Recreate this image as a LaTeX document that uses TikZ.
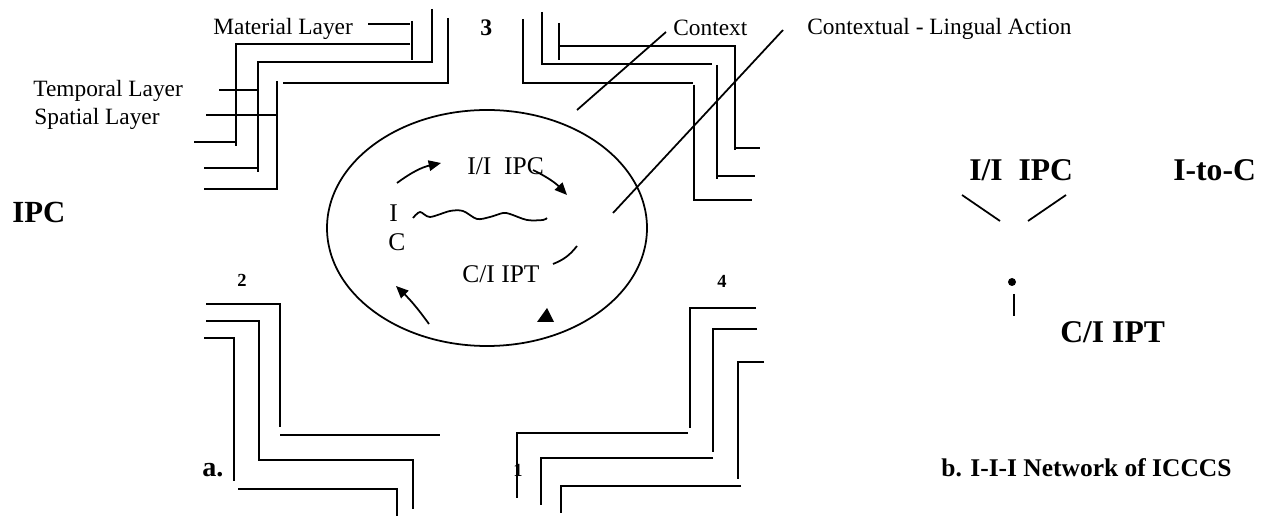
\documentclass[tikz,border=0pt]{standalone}
\usepackage{fontspec}
\setmainfont{Liberation Serif}
\usetikzlibrary{arrows.meta}
\tikzset{
  ln/.style={line width=1pt},
  arr/.style={line width=1pt,-{Triangle[length=7pt,width=6pt]}},
  lbl/.style={inner sep=0pt,anchor=base west,font=\fontsize{13.3}{15}\selectfont},
  ell/.style={inner sep=0pt,anchor=base west,font=\fontsize{14.5}{16}\selectfont},
  big/.style={inner sep=0pt,anchor=base west,font=\fontsize{18}{20}\selectfont\bfseries},
  num/.style={inner sep=0pt,anchor=base west,font=\fontsize{10.5}{12}\selectfont\bfseries},
}
\begin{document}
\begin{tikzpicture}[x=0.02cm,y=-0.02cm]
\useasboundingbox (0,0) rectangle (1271,516);
% ---------- labels ----------
\node[lbl] (mat) at (213,35) {Material Layer};
\node[lbl] (tmp) at (33,97) {Temporal Layer};
\node[lbl] (spa) at (34,125) {Spatial Layer};
\node[lbl] (ctx) at (673,36) {Context};
\node[lbl] (cla) at (807,35) {Contextual - Lingual Action};
\node[inner sep=0pt,anchor=base west,font=\fontsize{13.5}{15}\selectfont\bfseries] (n3) at (480,36) {3};
\node[num] (n2) at (237,287) {2};
\node[num] (n4) at (717,288) {4};
\node[num] (n1) at (513,477) {1};
\node[inner sep=0pt,anchor=base west,font=\fontsize{16}{18}\selectfont\bfseries] (la) at (202,477) {a.};
\node[inner sep=0pt,anchor=base west,font=\fontsize{17.5}{19}\selectfont\bfseries] (ipcl) at (12,223) {IPC};
% ---------- top-left corner ----------
\draw[ln] (368,24) -- (410,24);
\draw[ln] (412,21) -- (412,60);
\draw[ln] (410,44) -- (236,44) -- (236,146);
\draw[ln] (194,142) -- (236,142);
\draw[ln] (432,9) -- (432,62) -- (258,62) -- (258,172);
\draw[ln] (204,168) -- (258,168);
\draw[ln] (448,18) -- (448,83) -- (283,83);
\draw[ln] (277,81) -- (277,189) -- (204,189);
\draw[ln] (219,90) -- (258,90);
\draw[ln] (206,115) -- (277,115);
% ---------- top-right corner ----------
\draw[ln] (559,23) -- (559,60);
\draw[ln] (559,46) -- (735,46) -- (735,150);
\draw[ln] (735,148) -- (760,148);
\draw[ln] (542,12) -- (542,64) -- (712,64);
\draw[ln] (717,65) -- (717,179);
\draw[ln] (717,176) -- (755,176);
\draw[ln] (523,19) -- (523,83) -- (693,83);
\draw[ln] (694,85) -- (694,200) -- (752,200);
% pointers
\draw[ln] (666,32) -- (577,110);
\draw[ln] (783,30) -- (613,213);
% ---------- bottom-left corner ----------
\draw[ln] (206,304) -- (280,304) -- (280,427);
\draw[ln] (280,435) -- (440,435);
\draw[ln] (206,321) -- (259,321) -- (259,460) -- (413,460) -- (413,509);
\draw[ln] (204,338) -- (234,338) -- (234,481);
\draw[ln] (238,489) -- (397,489) -- (397,516);
% ---------- bottom-right corner ----------
\draw[ln] (756,308) -- (690,308) -- (690,428);
\draw[ln] (688,433) -- (517,433) -- (517,498);
\draw[ln] (757,329) -- (713,329) -- (713,452);
\draw[ln] (713,458) -- (541,458) -- (541,505);
\draw[ln] (764,362) -- (738,362) -- (738,479);
\draw[ln] (741,486) -- (561,486) -- (561,513);
% ---------- ellipse ----------
\draw[ln] (487,228) ellipse [x radius=160, y radius=118];
\node[ell] (iipc) at (467,175) {I/I\ \ IPC};
\node[ell] (ei) at (389,222) {I};
\node[ell] (ec) at (388,251) {C};
\node[ell] (cipt) at (462,283) {C/I IPT};
\draw[arr] (397,183) to[bend left=12] (441,163);
\draw[arr] (533,170) to[bend left=10] (567,195);
\draw[arr] (429,324) to[bend right=5] (396,286);
\draw[ln] (553,264) to[bend right=15] (577,246);
\fill (547,308) -- (537,322) -- (554,322) -- cycle;
\draw[ln] plot[smooth] coordinates {(413,218) (420,212) (430,217) (450,211) (463,211) (477,219) (490,217) (503,213) (510,214) (527,220) (543,220) (547,218)};
% ---------- right panel ----------
\node[big] (rip) at (969,181) {I/I\ \ IPC};
\node[big] (rito) at (1173,181) {I-to-C};
\node[big] (rcp) at (1060,343) {C/I IPT};
\draw[ln] (962,195) -- (1000,221);
\draw[ln] (1028,221) -- (1066,195);
\fill (1012,282) circle [radius=4];
\draw[ln] (1014,294) -- (1014,316);
\node[inner sep=0pt,anchor=base west,font=\fontsize{14.5}{16}\selectfont\bfseries] (cap) at (941,477) {b. I-I-I Network of ICCCS};
\end{tikzpicture}
\end{document}
